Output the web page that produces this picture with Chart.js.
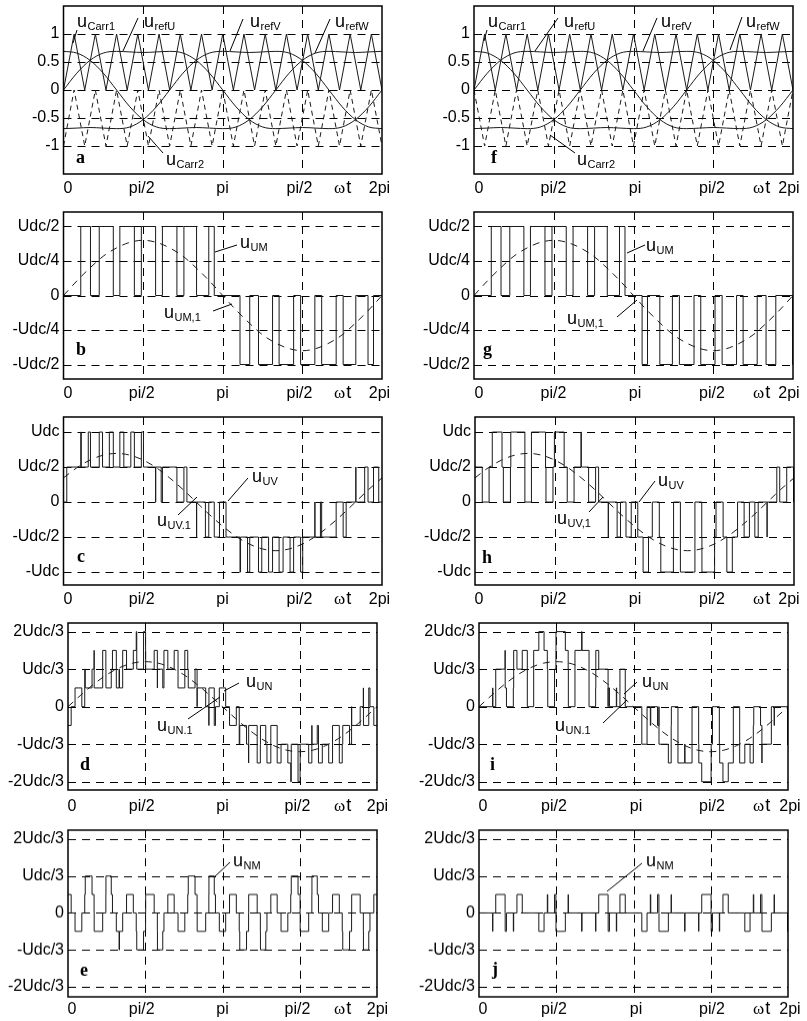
<!doctype html>
<html lang="en">
<head>
<meta charset="utf-8">
<title>PD / POD PWM waveforms</title>
<script src="https://cdn.jsdelivr.net/npm/chart.js"></script>
<style>
  html, body { margin: 0; padding: 0; background: #fff; }
  body { width: 807px; height: 1021px; position: relative; overflow: hidden; }
  canvas { position: absolute; }
</style>
</head>
<body>
<canvas id="pa"></canvas><canvas id="pf"></canvas>
<canvas id="pb"></canvas><canvas id="pg"></canvas>
<canvas id="pc"></canvas><canvas id="ph"></canvas>
<canvas id="pd"></canvas><canvas id="pi"></canvas>
<canvas id="pe"></canvas><canvas id="pj"></canvas>
<script>
// ---- data (angles in degrees, 0..360 = 0..2pi) ----
const DEG = [0,15,30,45,60,75,90,105,120,135,150,165,180,195,210,225,240,255,270,285,300,315,330,345,360];
const refU = [0,0.30,0.53,0.66,0.69,0.68,0.67,0.68,0.69,0.66,0.53,0.30,0,-0.30,-0.53,-0.66,-0.69,-0.68,-0.67,-0.68,-0.69,-0.66,-0.53,-0.30,0];
const refV = [-0.69,-0.68,-0.67,-0.68,-0.69,-0.66,-0.53,-0.30,0,0.30,0.53,0.66,0.69,0.68,0.67,0.68,0.69,0.66,0.53,0.30,0,-0.30,-0.53,-0.66,-0.69];
const refW = [0.69,0.66,0.53,0.30,0,-0.30,-0.53,-0.66,-0.69,-0.68,-0.67,-0.68,-0.69,-0.66,-0.53,-0.30,0,0.30,0.53,0.66,0.69,0.68,0.67,0.68,0.69];

const carrT = [0,12,24,36,48,60,72,84,96,108,120,132,144,156,168,180,192,204,216,228,240,252,264,276,288,300,312,324,336,348,360];
const carr1 = [0,1,0,1,0,1,0,1,0,1,0,1,0,1,0,1,0,1,0,1,0,1,0,1,0,1,0,1,0,1,0];
const carr2PD = [-1,0,-1,0,-1,0,-1,0,-1,0,-1,0,-1,0,-1,0,-1,0,-1,0,-1,0,-1,0,-1,0,-1,0,-1,0,-1];
const carr2POD = [0,-1,0,-1,0,-1,0,-1,0,-1,0,-1,0,-1,0,-1,0,-1,0,-1,0,-1,0,-1,0,-1,0,-1,0,-1,0];

// fundamentals (b,g and c,h in Udc/2 units; d,i in Udc/6 units)
const fundUM = [0,0.21,0.40,0.57,0.69,0.77,0.80,0.77,0.69,0.57,0.40,0.21,0,-0.21,-0.40,-0.57,-0.69,-0.77,-0.80,-0.77,-0.69,-0.57,-0.40,-0.21,0];
const fundUV = [0.69,0.98,1.20,1.34,1.39,1.34,1.20,0.98,0.69,0.36,0,-0.36,-0.69,-0.98,-1.20,-1.34,-1.39,-1.34,-1.20,-0.98,-0.69,-0.36,0,0.36,0.69];
const fundUN = [0,0.62,1.20,1.70,2.08,2.32,2.40,2.32,2.08,1.70,1.20,0.62,0,-0.62,-1.20,-1.70,-2.08,-2.32,-2.40,-2.32,-2.08,-1.70,-1.20,-0.62,0];

// switching instants and the level held after each instant
const tUM_PD = [0,19.5,30.5,40.4,56.3,63.7,80.1,88.0,104.1,111.8,128.2,136.1,150.4,164.2,170.4,199.5,210.5,220.4,236.3,243.7,260.1,268.0,284.1,291.8,308.2,316.1,330.4,344.2,350.4,360];
const lUM_PD = [0,1,0,1,0,1,0,1,0,1,0,1,0,1,0,-1,0,-1,0,-1,0,-1,0,-1,0,-1,0,-1,0,0];
const tUM_POD = [0,19.5,30.5,40.4,56.3,63.7,80.1,88.0,104.1,111.8,128.2,136.1,150.4,164.2,170.4,189.7,195.8,209.7,223.9,231.8,248.3,255.9,272.0,280.0,296.3,303.7,319.6,329.6,340.6,359.6,360];
const lUM_POD = [0,1,0,1,0,1,0,1,0,1,0,1,0,1,0,-1,0,-1,0,-1,0,-1,0,-1,0,-1,0,-1,0,-1,0];

const tUV_PD = [0,3.7,19.5,20.1,28.0,30.5,40.4,44.1,51.8,56.3,63.7,68.2,76.1,80.1,88.0,90.4,104.1,104.2,110.4,111.8,128.2,136.1,139.5,150.4,150.5,160.4,164.2,170.4,176.3,183.7,199.5,200.1,208.0,210.5,220.4,224.1,231.8,236.3,243.7,248.2,256.1,260.1,268.0,270.4,284.1,284.2,290.4,291.8,308.2,316.1,319.5,330.4,330.5,340.4,344.2,350.4,356.3,360];
const lUV_PD = [0,1,2,1,2,1,2,1,2,1,2,1,2,1,2,1,0,1,0,1,0,1,0,-1,0,-1,0,-1,0,-1,-2,-1,-2,-1,-2,-1,-2,-1,-2,-1,-2,-1,-2,-1,0,-1,0,-1,0,-1,0,1,0,1,0,1,0,0];
const tUV_POD = [0,8.2,15.9,19.5,30.5,32.0,40.0,40.4,56.3,63.7,79.6,80.1,88.0,89.6,100.6,104.1,111.8,119.6,120.0,128.2,136.1,139.5,150.4,150.5,160.4,164.2,170.4,176.3,183.7,189.7,195.8,200.1,208.0,209.7,223.9,224.1,231.8,248.2,255.9,256.1,270.4,272.0,280.0,284.2,290.4,296.3,303.7,309.7,315.8,319.6,329.6,329.7,340.6,343.9,351.8,359.6,360];
const lUV_POD = [1,0,1,2,1,0,1,2,0,2,1,0,1,2,1,0,1,2,1,0,1,0,-1,0,-1,0,-1,0,-1,-2,-1,0,-1,-2,-1,0,-2,0,-1,-2,-1,0,-1,-2,-1,0,-1,0,-1,0,-1,0,1,0,1,0,1];

const tN_PD = [0,3.7,8.2,16.1,19.5,20.1,28.0,30.4,30.5,40.4,44.1,44.2,50.4,51.8,56.3,59.5,60.0,63.7,68.2,76.1,79.5,80.1,88.0,90.4,90.5,100.4,104.1,104.2,110.4,111.8,116.3,123.7,128.2,136.1,139.5,140.1,148.0,150.4,150.5,160.4,164.1,164.2,170.4,171.8,176.3,183.7,188.2,196.1,199.5,200.1,208.0,210.4,210.5,220.4,224.1,224.2,230.4,231.8,236.3,243.7,248.2,256.1,259.5,260.1,268.0,270.4,270.5,280.4,284.1,284.2,290.4,291.8,296.3,303.7,308.2,316.1,319.5,320.1,328.0,330.4,330.5,340.4,344.1,344.2,350.4,351.8,356.3,360];
const lUN_PD = [-1,0,1,0,2,1,2,3,1,3,2,1,2,3,1,2,1,3,2,3,4,2,4,3,2,3,1,2,1,3,2,3,1,3,2,1,2,0,1,0,-1,1,-1,0,1,0,-1,0,-2,-1,-2,-3,-1,-3,-2,-1,-2,-3,-1,-3,-2,-3,-4,-2,-4,-3,-2,-3,-1,-2,-1,-3,-2,-3,-1,-3,-2,-1,-2,0,-1,0,1,-1,1,0,-1,-1];
const lNM_PD = [1,0,-1,0,1,2,1,0,-1,0,1,2,1,0,-1,-2,-1,0,1,0,-1,-2,-1,0,1,0,-1,-2,-1,0,1,0,-1,0,1,2,1,0,-1,0,1,2,1,0,-1,0,1,0,-1,-2,-1,0,1,0,-1,-2,-1,0,1,0,-1,0,1,2,1,0,-1,0,1,2,1,0,-1,0,1,0,-1,-2,-1,0,1,0,-1,-2,-1,0,1,1];

const tUN_POD = [0,15.9,16.1,19.5,30.4,30.5,32.0,40.0,40.4,44.2,50.4,56.3,63.7,69.7,75.8,79.6,80.1,88.0,89.6,89.7,100.6,103.9,104.1,111.8,119.6,120.0,128.2,135.9,136.1,139.5,150.4,150.5,152.0,160.0,160.4,164.2,170.4,189.7,195.8,199.6,200.1,208.0,209.6,209.7,220.6,223.9,224.1,231.8,239.6,240.0,248.2,255.9,256.1,259.5,270.4,270.5,272.0,280.0,280.4,284.2,290.4,296.3,303.7,309.7,315.8,319.6,320.1,328.0,329.6,329.7,340.6,343.9,344.1,359.6,360];
const lUN_POD = [0,1,0,2,3,1,0,1,3,2,3,0,3,4,3,2,0,2,3,4,3,2,0,3,4,3,0,1,3,2,0,1,0,1,0,2,0,-2,0,-1,0,-1,0,-2,-3,-1,0,-3,-2,-3,0,-2,-3,-4,-3,-2,0,-2,-3,-4,-3,0,-3,-2,-3,-1,0,-1,-3,-2,0,-1,0,-2,0];
const tNM_POD = [0,15.9,16.1,19.5,30.4,30.5,32.0,40.0,40.4,44.2,50.4,69.7,75.8,79.6,80.1,88.0,89.6,89.7,100.6,103.9,104.1,119.6,120.0,135.9,136.1,139.5,150.4,150.5,152.0,160.0,160.4,164.2,170.4,189.7,195.8,199.6,200.1,208.0,209.6,209.7,220.6,223.9,224.1,239.6,240.0,255.9,256.1,259.5,270.4,270.5,272.0,280.0,280.4,284.2,290.4,309.7,315.8,319.6,320.1,328.0,329.6,329.7,340.6,343.9,344.1,359.6,360];
const lNM_POD = [0,-1,0,1,0,-1,0,-1,0,1,0,-1,0,1,0,1,0,-1,0,1,0,-1,0,-1,0,1,0,-1,0,-1,0,1,0,-1,0,1,0,1,0,-1,0,1,0,-1,0,-1,0,1,0,-1,0,-1,0,1,0,-1,0,1,0,1,0,-1,0,1,0,-1,0];

// axis ticks
const xTickText = ['0', 'pi/2', 'pi', 'pi/2', '2pi'];
const refTicks = [-1, -0.5, 0, 0.5, 1];
const refText = ['-1', '-0.5', '0', '0.5', '1'];
const umTicks = [-1, -0.5, 0, 0.5, 1];
const umText = ['-Udc/2', '-Udc/4', '0', 'Udc/4', 'Udc/2'];
const uvTicks = [-2, -1, 0, 1, 2];
const uvText = ['-Udc', '-Udc/2', '0', 'Udc/2', 'Udc'];
const unTicks = [-4, -2, 0, 2, 4];
const unText = ['-2Udc/3', '-Udc/3', '0', 'Udc/3', '2Udc/3'];

// ---- drawing ----
const FONT = '"Liberation Sans", Arial, Helvetica, sans-serif';
const SERIF = '"Liberation Serif", "Times New Roman", serif';
const boxes = {};

const pts = (xs, ys) => xs.map((x, i) => ({ x: x, y: ys[i] }));
const step = (xs, ys) => ({ data: pts(xs, ys), stepped: true, borderColor: '#1a1a1a', borderWidth: 1 });
const curve = (ys, dash) => ({ data: pts(DEG, ys), cubicInterpolationMode: 'monotone', borderColor: '#1a1a1a', borderWidth: 1, borderDash: dash || [] });
const tri = (ys, dash) => ({ data: pts(carrT, ys), borderColor: '#1a1a1a', borderWidth: 1, borderDash: dash || [] });

const pagePlugin = {
  id: 'page',
  beforeDatasetsDraw(chart) {
    const { ctx, chartArea: a, scales: { x, y } } = chart;
    const b = boxes[chart.canvas.id];
    ctx.save();
    ctx.strokeStyle = '#000';
    ctx.lineWidth = 1;
    ctx.setLineDash([8, 6]);
    ctx.beginPath();
    [90, 180, 270].forEach(v => {
      const px = Math.round(x.getPixelForValue(v)) + 0.5;
      ctx.moveTo(px, a.top); ctx.lineTo(px, a.bottom);
    });
    b.yTicks.forEach(v => {
      const py = Math.round(y.getPixelForValue(v)) + 0.5;
      ctx.moveTo(a.left, py); ctx.lineTo(a.right, py);
    });
    ctx.stroke();
    ctx.restore();
  },
  afterDraw(chart) {
    const { ctx, chartArea: a } = chart;
    const b = boxes[chart.canvas.id];
    ctx.save();
    ctx.strokeStyle = '#000';
    ctx.lineWidth = 1.5;
    ctx.setLineDash([]);
    ctx.strokeRect(a.left, a.top, a.right - a.left, a.bottom - a.top);

    // labels below are placed in page coordinates
    ctx.translate(-b.cx, -b.cy);
    ctx.fillStyle = '#000';
    ctx.textBaseline = 'alphabetic';
    ctx.font = '16px ' + FONT;
    ctx.textAlign = 'center';
    b.xLab.forEach((cx, i) => ctx.fillText(xTickText[i], cx, b.labY));
    ctx.textAlign = 'left';
    ctx.font = '17px ' + SERIF;
    ctx.fillText('\u03c9', b.wt, b.labY);
    const ww = ctx.measureText('\u03c9').width;
    ctx.font = '18px ' + FONT;
    ctx.fillText('t', b.wt + ww + 1, b.labY);

    ctx.font = 'bold 18px ' + SERIF;
    ctx.fillText(b.letter[0], b.letter[1], b.letter[2]);

    ctx.lineWidth = 1;
    b.notes.forEach(n => {
      ctx.font = '18px ' + FONT;
      ctx.fillText('u', n.x, n.y);
      const w = ctx.measureText('u').width;
      ctx.font = '11px ' + FONT;
      ctx.fillText(n.s, n.x + w + 0.5, n.y + 3);
      ctx.beginPath();
      ctx.moveTo(n.l[0], n.l[1]);
      ctx.lineTo(n.l[2], n.l[3]);
      ctx.stroke();
    });
    ctx.restore();
  }
};

function plot(id, p) {
  const cv = document.getElementById(id);
  const left = p.col === 0 ? 0 : 400;
  const W = p.col === 0 ? 400 : 420;
  const top = p.T - 16;
  const H = p.B - p.T + 46;
  cv.width = W; cv.height = H;
  cv.style.left = left + 'px'; cv.style.top = top + 'px';
  cv.style.width = W + 'px'; cv.style.height = H + 'px';
  boxes[id] = Object.assign({ cx: left, cy: top }, p);
  return new Chart(cv, {
    type: 'line',
    data: { datasets: p.sets },
    options: {
      responsive: false,
      animation: false,
      devicePixelRatio: 1,
      layout: { padding: { top: 16, right: left + W - p.R, left: 0, bottom: 0 } },
      plugins: { legend: { display: false }, tooltip: { enabled: false } },
      elements: { point: { radius: 0 }, line: { fill: false, tension: 0 } },
      scales: {
        x: {
          type: 'linear', min: 0, max: 360,
          grid: { display: false, drawTicks: false },
          border: { display: false },
          ticks: { display: false },
          afterFit: s => { s.height = 30; }
        },
        y: {
          type: 'linear', min: p.ymin, max: p.ymax,
          grid: { display: false, drawTicks: false },
          border: { display: false },
          afterBuildTicks: s => { s.ticks = p.yTicks.map(v => ({ value: v })); },
          afterFit: s => { s.width = p.L - left; },
          ticks: {
            padding: 4, color: '#000', autoSkip: false,
            font: { family: FONT, size: 16 },
            callback: v => p.yText[p.yTicks.indexOf(v)]
          }
        }
      }
    },
    plugins: [pagePlugin]
  });
}

const LAB_L = [68, 141.7, 222.5, 299.5, 379.5];
const LAB_L2 = [72, 141.7, 222.5, 297.5, 377.5];
const LAB_R = [479, 553.5, 635, 712, 789];
const LAB_R2 = [483, 554, 636, 712, 790];

plot('pa', {
  col: 0, L: 63.5, R: 382, T: 6, B: 174, ymin: -1.5, ymax: 1.5,
  yTicks: refTicks, yText: refText, xLab: LAB_L, labY: 193.3, wt: 334, letter: ['a', 76, 163],
  sets: [tri(carr1), tri(carr2PD, [5, 4]), curve(refU), curve(refV), curve(refW)],
  notes: [
    { x: 77, y: 27, s: 'Carr1', l: [77, 30, 73, 43] },
    { x: 144, y: 27, s: 'refU', l: [138, 18, 123, 51] },
    { x: 250, y: 27, s: 'refV', l: [243, 19, 230, 51] },
    { x: 335, y: 27, s: 'refW', l: [330, 19, 315, 53] },
    { x: 166, y: 165, s: 'Carr2', l: [163, 153, 148, 136] }
  ]
});
plot('pf', {
  col: 1, L: 474, R: 793, T: 6, B: 174, ymin: -1.5, ymax: 1.5,
  yTicks: refTicks, yText: refText, xLab: LAB_R, labY: 193.3, wt: 753, letter: ['f', 491, 163],
  sets: [tri(carr1), tri(carr2POD, [5, 4]), curve(refU), curve(refV), curve(refW)],
  notes: [
    { x: 488, y: 27, s: 'Carr1', l: [487, 30, 484, 41] },
    { x: 564, y: 27, s: 'refU', l: [558, 18, 535, 51] },
    { x: 661, y: 27, s: 'refV', l: [657, 18, 643, 51] },
    { x: 746, y: 27, s: 'refW', l: [742, 17, 730, 50] },
    { x: 577, y: 165, s: 'Carr2', l: [575, 153, 550, 135] }
  ]
});
plot('pb', {
  col: 0, L: 63.5, R: 382, T: 212, B: 379, ymin: -1.21, ymax: 1.21,
  yTicks: umTicks, yText: umText, xLab: LAB_L, labY: 398.3, wt: 334, letter: ['b', 76, 355],
  sets: [step(tUM_PD, lUM_PD), curve(fundUM, [7, 6])],
  notes: [
    { x: 240, y: 248, s: 'UM', l: [237, 245, 215, 252] },
    { x: 164, y: 318, s: 'UM,1', l: [213, 311, 232, 304] }
  ]
});
plot('pg', {
  col: 1, L: 474, R: 793, T: 212, B: 379, ymin: -1.21, ymax: 1.21,
  yTicks: umTicks, yText: umText, xLab: LAB_R, labY: 398.3, wt: 753, letter: ['g', 483, 355],
  sets: [step(tUM_POD, lUM_POD), curve(fundUM, [7, 6])],
  notes: [
    { x: 646, y: 251, s: 'UM', l: [645, 245, 627, 253] },
    { x: 567, y: 324, s: 'UM,1', l: [617, 317, 637, 300] }
  ]
});
plot('pc', {
  col: 0, L: 63.5, R: 382, T: 417, B: 585, ymin: -2.37, ymax: 2.43,
  yTicks: uvTicks, yText: uvText, xLab: LAB_L, labY: 604, wt: 334, letter: ['c', 77, 562],
  sets: [step(tUV_PD, lUV_PD), curve(fundUV, [7, 6])],
  notes: [
    { x: 252, y: 482, s: 'UV', l: [248, 478, 228, 501] },
    { x: 157, y: 526, s: 'UV.1', l: [178, 515, 197, 497] }
  ]
});
plot('ph', {
  col: 1, L: 475, R: 794, T: 417, B: 585, ymin: -2.37, ymax: 2.43,
  yTicks: uvTicks, yText: uvText, xLab: LAB_R, labY: 604, wt: 753, letter: ['h', 482, 563],
  sets: [step(tUV_POD, lUV_POD), curve(fundUV, [7, 6])],
  notes: [
    { x: 658, y: 486, s: 'UV', l: [655, 481, 639, 502] },
    { x: 557, y: 524, s: 'UV,1', l: [589, 512, 603, 497] }
  ]
});
plot('pd', {
  col: 0, L: 68, R: 377, T: 623, B: 790, ymin: -4.44, ymax: 4.46,
  yTicks: unTicks, yText: unText, xLab: LAB_L2, labY: 811, wt: 334, letter: ['d', 80, 770],
  sets: [step(tN_PD, lUN_PD), curve(fundUN, [7, 6])],
  notes: [
    { x: 246, y: 687, s: 'UN', l: [239, 683, 224, 691] },
    { x: 157, y: 731, s: 'UN.1', l: [188, 719, 220, 697] }
  ]
});
plot('pi', {
  col: 1, L: 479, R: 788, T: 623, B: 790, ymin: -4.44, ymax: 4.46,
  yTicks: unTicks, yText: unText, xLab: LAB_R2, labY: 811, wt: 753, letter: ['i', 490, 770],
  sets: [step(tUN_POD, lUN_POD), curve(fundUN, [7, 6])],
  notes: [
    { x: 642, y: 687, s: 'UN', l: [637, 682, 624, 694] },
    { x: 555, y: 731, s: 'UN.1', l: [603, 723, 627, 700] }
  ]
});
plot('pe', {
  col: 0, L: 68, R: 377, T: 830, B: 996.5, ymin: -4.55, ymax: 4.49,
  yTicks: unTicks, yText: unText, xLab: LAB_L2, labY: 1013, wt: 334, letter: ['e', 80, 975],
  sets: [step(tN_PD, lNM_PD)],
  notes: [{ x: 233, y: 866, s: 'NM', l: [230, 862, 214, 877] }]
});
plot('pj', {
  col: 1, L: 479, R: 788, T: 830, B: 996.5, ymin: -4.55, ymax: 4.49,
  yTicks: unTicks, yText: unText, xLab: LAB_R2, labY: 1013, wt: 753, letter: ['j', 492, 974],
  sets: [step(tNM_POD, lNM_POD)],
  notes: [{ x: 646, y: 866, s: 'NM', l: [642, 863, 607, 891] }]
});
</script>
</body>
</html>
